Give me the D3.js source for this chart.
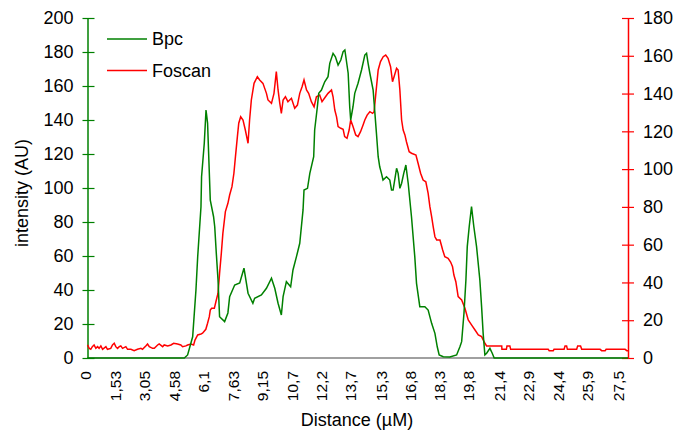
<!DOCTYPE html>
<html><head><meta charset="utf-8">
<script src="https://cdn.jsdelivr.net/npm/d3@7"></script>
<style>
body{margin:0;background:#fff}
svg text{font-family:"Liberation Sans",Arial,sans-serif;fill:#000}
</style>
</head><body>
<svg id="chart" width="689" height="439"></svg>
<script>
// ---- data ----
const xTickValues = [0,1.53,3.05,4.58,6.1,7.63,9.15,10.7,12.2,13.7,15.3,16.8,18.3,19.8,21.4,22.9,24.4,25.9,27.5];
const xTickLabels = ["0","1,53","3,05","4,58","6,1","7,63","9,15","10,7","12,2","13,7","15,3","16,8","18,3","19,8","21,4","22,9","24,4","25,9","27,5"];
const leftTicks = [0,20,40,60,80,100,120,140,160,180,200];
const rightTicks = [0,20,40,60,80,100,120,140,160,180];
const seriesNames = ["Bpc","Foscan"];

const bpcDist = [0,5.00,5.17,5.43,5.60,5.69,5.86,5.89,6.03,6.12,6.20,6.34,6.51,6.57,6.65,6.74,6.82,7.08,7.25,7.34,7.60,7.86,8.08,8.29,8.54,8.63,8.98,9.24,9.50,9.67,9.84,10.01,10.10,10.27,10.49,10.61,10.79,10.96,11.13,11.18,11.36,11.48,11.68,11.73,11.87,11.94,12.08,12.25,12.42,12.51,12.68,12.80,12.94,13.08,13.20,13.29,13.46,13.54,13.59,13.71,13.80,13.97,14.15,14.32,14.41,14.49,14.58,14.75,14.92,15.01,15.09,15.18,15.26,15.44,15.61,15.70,15.78,15.96,16.04,16.13,16.22,16.33,16.44,16.56,16.73,16.90,16.99,17.16,17.42,17.59,17.77,17.94,18.06,18.16,18.37,18.71,19.06,19.23,19.32,19.44,19.54,19.61,19.71,19.83,19.95,20.09,20.26,20.35,20.43,20.52,20.61,20.78,20.90,21.00,27.91];
const bpcVal = [0,0,1.8,12.5,40.0,59.6,89.0,106.6,126.3,145.9,138.2,92.9,83.1,77.2,61.8,45.9,24.3,21.4,26.5,36.1,42.9,44.1,52.8,38.1,32.2,35.1,37.1,41.0,46.9,41.0,32.2,25.3,36.1,44.9,41.9,51.8,59.6,67.5,87.1,98.8,99.8,108.6,118.4,134.1,147.8,155.7,157.6,162.5,165.5,173.3,179.2,177.2,172.3,175.3,180.2,181.2,167.5,147.8,140.0,147.8,155.7,161.6,169.4,178.2,179.2,173.3,167.5,157.6,132.2,118.4,112.5,108.6,104.7,106.6,104.7,98.8,98.8,111.6,108.6,99.8,102.8,108.6,113.5,102.8,83.1,59.6,43.9,30.2,30.2,28.2,20.4,14.5,6.6,1.8,0.8,0.6,1.8,6.6,9.6,26.3,45.9,65.5,77.2,89.0,77.2,65.5,45.9,30.2,14.5,1.8,2.8,5.7,2.8,0,0];

const fosDist = [0,0.09,0.17,0.25,0.34,0.43,0.52,0.60,0.69,0.78,
0.95,1.03,1.20,1.29,1.38,1.46,1.55,1.64,1.72,1.81,
1.98,2.07,2.24,2.41,2.58,2.76,2.84,3.01,3.10,3.19,
3.36,3.45,3.62,3.70,3.88,3.96,4.14,4.31,4.45,4.65,
4.82,4.91,5.08,5.17,5.34,5.48,5.55,5.69,5.86,5.94,
6.11,6.20,6.29,6.34,6.41,6.55,6.63,6.74,6.82,6.91,
6.99,7.12,7.25,7.34,7.46,7.56,7.64,7.74,7.81,7.91,
8.03,8.15,8.29,8.37,8.46,8.60,8.77,8.89,9.06,9.24,
9.32,9.50,9.63,9.75,9.84,9.93,10.01,10.10,10.22,10.35,
10.53,10.70,10.84,10.96,11.08,11.18,11.31,11.42,11.56,11.70,
11.82,11.99,12.11,12.29,12.42,12.60,12.68,12.77,12.86,12.94,
13.08,13.20,13.28,13.40,13.51,13.59,13.71,13.85,13.97,14.10,
14.23,14.32,14.44,14.58,14.72,14.80,14.89,15.01,15.13,15.27,
15.40,15.52,15.65,15.75,15.83,15.96,16.04,16.13,16.22,16.30,
16.39,16.47,16.61,16.73,16.96,17.07,17.20,17.33,17.47,17.59,
17.68,17.77,17.85,17.94,18.03,18.20,18.34,18.45,18.62,18.75,
18.85,18.92,19.02,19.14,19.32,19.49,19.66,19.83,20.01,20.18,
20.35,20.52,20.61,21.39,21.40,21.63,21.66,21.81,21.85,23.79,
23.84,24.05,24.09,24.61,24.66,24.74,24.78,25.26,25.31,25.46,
25.52,26.47,26.55,26.73,26.78,27.76,27.85,27.91];
const fosVal = [6.9,5.1,4.6,6.0,6.9,5.1,6.0,5.1,6.4,4.6,
6.0,4.6,5.1,6.9,7.8,6.0,5.1,6.0,6.4,5.1,
6.0,4.6,4.6,3.9,4.6,5.1,4.6,6.4,7.4,6.0,
5.1,5.1,6.9,7.4,6.0,6.9,6.4,6.9,7.8,7.4,
6.9,6.0,6.4,6.9,7.4,6.9,9.5,12.2,12.7,13.1,
15.2,18.4,21.9,25.4,26.3,26.3,29.8,34.3,44.8,55.4,
66.0,77.5,81.9,86.3,90.7,97.8,106.6,117.2,124.3,127.7,
126.0,120.7,113.7,126.0,136.6,145.4,148.9,147.2,145.4,140.1,
136.6,134.8,140.1,151.6,141.9,134.8,129.5,136.6,138.3,135.7,
137.5,132.2,133.9,140.1,143.6,147.2,141.9,140.1,135.7,133.0,
138.3,139.2,135.7,138.3,140.1,141.9,138.3,131.3,127.7,122.5,
121.6,121.1,117.2,116.3,120.7,126.0,122.5,118.1,117.2,119.8,
123.4,126.0,128.6,130.4,129.5,130.4,140.1,152.5,156.9,159.5,
160.4,158.7,154.2,146.3,148.9,153.4,152.5,141.9,126.0,120.7,
118.1,114.5,109.2,108.4,107.5,103.1,97.8,94.2,93.3,87.2,
80.1,74.8,69.5,64.2,62.5,62.5,57.2,53.6,52.8,50.8,
48.3,43.9,40.4,32.5,30.7,26.3,20.1,17.5,14.8,12.2,
11.3,7.8,6.4,6.4,4.6,4.6,6.4,6.4,4.6,4.6,
3.9,3.9,4.6,4.6,6.4,6.4,4.6,4.6,6.4,6.4,
4.6,4.6,3.9,3.9,4.6,4.6,3.9,3.9];

// ---- layout ----
const L = 87.5, R = 628, T = 18, B = 358;
const GREEN = "#008000", RED = "#ff0000";
const svg = d3.select("#chart");

const x = d3.scaleLinear().domain([0, 27.91]).range([L, R]);
const yL = d3.scaleLinear().domain([0, 200]).range([B, T]);
const yR = d3.scaleLinear().domain([0, 180]).range([B, T]);

// x axis line
svg.append("line").attr("x1", L).attr("x2", R).attr("y1", B).attr("y2", B)
  .attr("stroke", "#808080").attr("stroke-width", 1.5);

// x tick labels (rotated)
const xg = svg.append("g");
xg.selectAll("text").data(xTickValues).join("text")
  .attr("transform", d => `translate(${x(d) - 2},371) rotate(-90)`)
  .attr("text-anchor", "end")
  .attr("dominant-baseline", "central")
  .attr("font-size", 15.5)
  .text((d, i) => xTickLabels[i]);

// left axis
const gl = svg.append("g").attr("transform", `translate(${L},0)`)
  .call(d3.axisLeft(yL).tickValues(leftTicks).tickSizeOuter(0).tickSize(0).tickPadding(14));
gl.select(".domain").attr("stroke", GREEN).attr("stroke-width", 1.5);
gl.selectAll(".tick line").attr("x1", -5).attr("x2", 7).attr("stroke", GREEN).attr("stroke-width", 1.2);
gl.selectAll(".tick text").attr("font-size", 18).attr("font-family", "Liberation Sans, Arial, sans-serif");

// right axis
const gr = svg.append("g").attr("transform", `translate(${R},0)`)
  .call(d3.axisRight(yR).tickValues(rightTicks).tickSizeOuter(0).tickSize(0).tickPadding(15));
gr.select(".domain").attr("stroke", RED).attr("stroke-width", 1.5);
gr.selectAll(".tick line").attr("x1", -6).attr("x2", 6).attr("stroke", RED).attr("stroke-width", 1.2);
gr.selectAll(".tick text").attr("font-size", 18).attr("font-family", "Liberation Sans, Arial, sans-serif");

// series
const fosData = d3.zip(fosDist, fosVal);
const bpcData = d3.zip(bpcDist, bpcVal);
svg.append("path").datum(fosData)
  .attr("d", d3.line().x(d => x(d[0])).y(d => yR(d[1])))
  .attr("fill", "none").attr("stroke", RED).attr("stroke-width", 1.5);
svg.append("path").datum(bpcData)
  .attr("d", d3.line().x(d => x(d[0])).y(d => yL(d[1])))
  .attr("fill", "none").attr("stroke", GREEN).attr("stroke-width", 1.5);

// legend
const legY = [39, 70.5];
const legColors = [GREEN, RED];
seriesNames.forEach((n, i) => {
  svg.append("line").attr("x1", 107).attr("x2", 147).attr("y1", legY[i]).attr("y2", legY[i])
    .attr("stroke", legColors[i]).attr("stroke-width", 1.5);
  svg.append("text").attr("x", 152).attr("y", legY[i]).attr("dominant-baseline", "central")
    .attr("font-size", 18).text(n);
});

// axis titles
svg.append("text").attr("x", 357).attr("y", 426).attr("text-anchor", "middle")
  .attr("font-size", 18).text("Distance (µM)");
svg.append("text").attr("transform", "translate(28,193) rotate(-90)").attr("text-anchor", "middle")
  .attr("font-size", 18).text("intensity (AU)");
</script>
</body></html>
